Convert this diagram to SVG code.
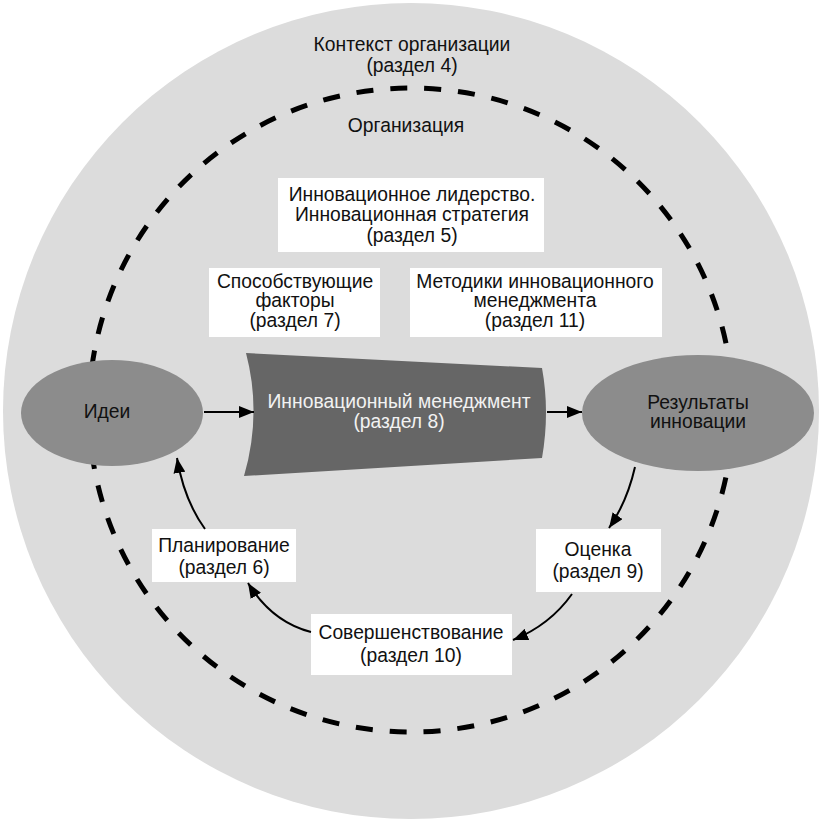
<svg xmlns="http://www.w3.org/2000/svg" width="822" height="822" viewBox="0 0 822 822">
<defs>
<style>
text{font-family:"Liberation Sans",Arial,sans-serif;font-size:19.3px;fill:#111;text-anchor:middle}
.w{fill:#f2f2f2}
.box{fill:#fff}
.conn{fill:none;stroke:#000;stroke-width:2;marker-end:url(#ah)}
</style>
<marker id="ah" markerUnits="userSpaceOnUse" markerWidth="16" markerHeight="12" refX="15" refY="6" orient="auto">
<path d="M0,0 L15,6 L0,12 z" fill="#000"/>
</marker>
</defs>
<rect width="822" height="822" fill="#fff"/>
<g id="context">
<circle cx="411" cy="411" r="408" fill="#dcdcdc"/>
<text x="412" y="51">Контекст организации</text>
<text x="412" y="72">(раздел 4)</text>
</g>
<g id="organization">
<circle cx="411" cy="410" r="322" fill="none" stroke="#000" stroke-width="5" stroke-dasharray="17 17"/>
<text x="406" y="132">Организация</text>
</g>
<g id="leadership">
<rect class="box" x="278" y="178" width="266" height="74"/>
<text x="412" y="201">Инновационное лидерство.</text>
<text x="412" y="221">Инновационная стратегия</text>
<text x="412" y="242">(раздел 5)</text>
</g>
<g id="factors">
<rect class="box" x="209" y="268" width="171" height="69"/>
<text x="295" y="288">Способствующие</text>
<text x="295" y="307">факторы</text>
<text x="295" y="327">(раздел 7)</text>
</g>
<g id="methods">
<rect class="box" x="410" y="268" width="252" height="69"/>
<text x="535" y="288">Методики инновационного</text>
<text x="535" y="307">менеджмента</text>
<text x="535" y="327">(раздел 11)</text>
</g>
<g id="ideas">
<ellipse cx="112" cy="413" rx="91" ry="53" fill="#8c8c8c"/>
<text x="107" y="418">Идеи</text>
</g>
<g id="management">
<path d="M246,353 L542,368 Q550,412 542,458 L244,476 Q262,414 246,353 z" fill="#666"/>
<text class="w" x="399" y="408">Инновационный менеджмент</text>
<text class="w" x="399" y="428">(раздел 8)</text>
</g>
<g id="results">
<ellipse cx="698" cy="413" rx="116" ry="58" fill="#8c8c8c"/>
<text x="698" y="409">Результаты</text>
<text x="698" y="428">инновации</text>
</g>
<g id="evaluation">
<rect class="box" x="536" y="529" width="125" height="63"/>
<text x="598" y="556">Оценка</text>
<text x="598" y="578">(раздел 9)</text>
</g>
<g id="improvement">
<rect class="box" x="311" y="614" width="201" height="61"/>
<text x="411" y="639">Совершенствование</text>
<text x="411" y="662">(раздел 10)</text>
</g>
<g id="planning">
<rect class="box" x="152" y="529" width="144" height="53"/>
<text x="224" y="552">Планирование</text>
<text x="224" y="574">(раздел 6)</text>
</g>
<g id="connectors">
<path class="conn" d="M204,412 L254,412"/>
<path class="conn" d="M547,412 L582,412"/>
<path class="conn" d="M635,467 Q627,502 609,528"/>
<path class="conn" d="M572,594 Q550,625 513,640"/>
<path class="conn" d="M311,632 Q272,622 248,583"/>
<path class="conn" d="M205,529 Q184,500 177,458"/>
</g>
</svg>
